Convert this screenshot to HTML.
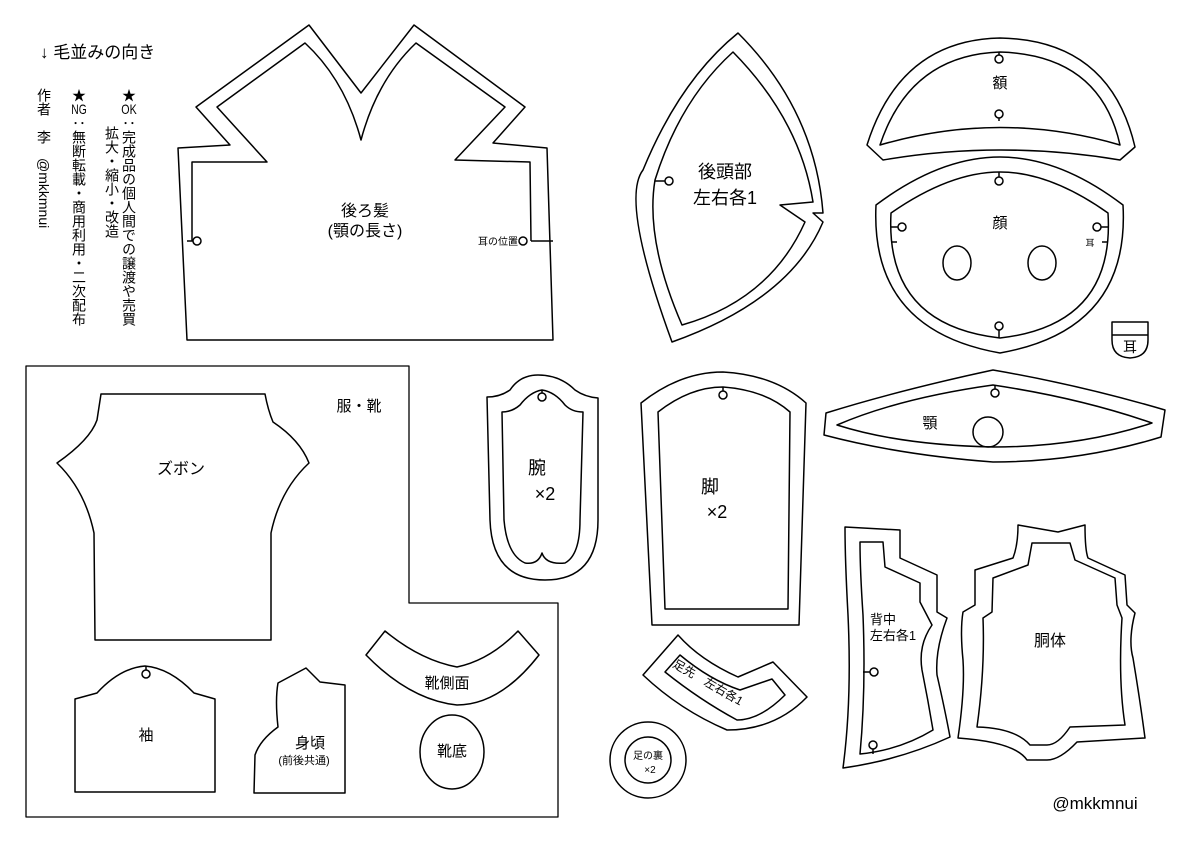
<!DOCTYPE html>
<html><head><meta charset="utf-8"><style>
html,body{margin:0;padding:0;background:#fff;}
body{width:1200px;height:849px;overflow:hidden;position:relative;font-family:"Liberation Sans","Noto Sans CJK JP",sans-serif;color:#000;}
svg{position:absolute;left:0;top:0;}
.v{position:absolute;writing-mode:vertical-rl;font-size:14px;line-height:16px;letter-spacing:0px;white-space:nowrap;}
</style></head><body>
<svg width="1200" height="849" viewBox="0 0 1200 849" fill="none" stroke="#000" stroke-width="1.5" stroke-linejoin="round">
<!-- back hair -->
<path d="M187,340 L178,148 L230,145 L196,107 L309,25 L361,93 L414,25 L525,107 L493,143 L547,148 L553,340 Z"/>
<path d="M192,241 L192,162 L267,162 L217,107 L305,43 Q345,80 361,140 Q377,80 416,43 L505,107 L455,160 L530,162 L531,241"/>
<line x1="187" y1="241" x2="193" y2="241"/><circle cx="197" cy="241" r="4"/>
<line x1="531" y1="241" x2="553" y2="241"/><circle cx="523" cy="241" r="4" fill="#fff"/>
<!-- back head -->
<path d="M738,33 Q815,110 823,213 L813,213 L823,222 Q790,300 672,342 Q620,200 643,170 Q680,80 738,33 Z"/>
<path d="M733,52 Q800,120 813,202 L780,205 L805,222 Q770,300 682,325 Q645,240 655,180 Q680,100 733,52 Z"/>
<line x1="655" y1="181" x2="665" y2="181"/><circle cx="669" cy="181" r="4"/>
<!-- forehead -->
<path d="M867,145 Q900,40 1000,38 Q1110,40 1135,147 L1120,160 Q1000,140 883,160 Z"/>
<path d="M880,145 Q910,55 1000,52 Q1100,55 1120,145 Q1000,110 880,145 Z"/>
<line x1="999" y1="52" x2="999" y2="55"/><circle cx="999" cy="59" r="4"/>
<line x1="999" y1="118" x2="999" y2="121"/><circle cx="999" cy="114" r="4"/>
<!-- face -->
<path d="M876,205 Q940,157 1000,157 Q1060,157 1123,205 Q1130,330 1000,353 Q870,330 876,205 Z"/>
<path d="M891,213 Q950,172 1000,172 Q1050,172 1108,213 Q1115,325 1000,338 Q885,325 891,213 Z"/>
<line x1="999" y1="172" x2="999" y2="177"/><circle cx="999" cy="181" r="4"/>
<line x1="999" y1="338" x2="999" y2="330"/><circle cx="999" cy="326" r="4"/>
<line x1="891" y1="227" x2="898" y2="227"/><circle cx="902" cy="227" r="4"/>
<line x1="1108" y1="227" x2="1101" y2="227"/><circle cx="1097" cy="227" r="4"/>
<line x1="891" y1="242" x2="897" y2="242"/><line x1="1108" y1="242" x2="1102" y2="242"/>
<ellipse cx="957" cy="263" rx="14" ry="17"/><ellipse cx="1042" cy="263" rx="14" ry="17"/>
<path d="M1112,322 L1148,322 L1148,340 Q1148,357 1130,358 Q1112,357 1112,340 Z"/>
<line x1="1112" y1="335" x2="1148" y2="335"/>
<!-- chin -->
<path d="M826,413 Q900,390 993,370 Q1080,385 1165,410 L1161,437 Q1080,462 993,462 Q900,455 824,435 Z"/>
<path d="M837,425 Q900,398 993,385 Q1080,398 1152,423 Q1080,447 993,447 Q900,445 837,425 Z"/>
<line x1="995" y1="385" x2="995" y2="389"/><circle cx="995" cy="393" r="4"/>
<circle cx="988" cy="432" r="15"/>
<!-- arm -->
<path d="M538,375 Q520,375 510,390 Q500,397 487,397 L490,520 Q492,580 545,580 Q598,580 598,520 L598,398 Q585,397 575,390 Q560,375 538,375 Z"/>
<path d="M542,390 Q530,392 520,405 Q512,412 502,412 L504,520 Q507,555 525,563 Q538,565 542,553 Q546,565 565,563 Q580,555 580,520 L583,412 Q572,412 565,405 Q555,392 542,390 Z"/>
<line x1="542" y1="390" x2="542" y2="393"/><circle cx="542" cy="397" r="4"/>
<!-- leg -->
<path d="M641,403 Q680,372 723,372 Q775,375 806,403 L799,625 L652,625 Z"/>
<path d="M658,412 Q690,387 723,387 Q765,390 790,412 L788,609 L665,609 Z"/>
<line x1="723" y1="387" x2="723" y2="391"/><circle cx="723" cy="395" r="4"/>
<!-- back -->
<path d="M845,527 L900,530 L900,558 L937,575 L937,612 L947,618 Q935,650 937,675 Q945,710 950,737 Q900,760 843,768 Q852,700 848,615 Q845,560 845,527 Z"/>
<path d="M860,542 L883,542 L885,567 L920,583 L920,602 L932,625 Q918,645 922,670 Q928,700 933,730 Q900,750 860,754 Q866,690 863,615 Q860,570 860,542 Z"/>
<line x1="863" y1="672" x2="870" y2="672"/><circle cx="874" cy="672" r="4"/>
<line x1="873" y1="754" x2="873" y2="749"/><circle cx="873" cy="745" r="4"/>
<!-- torso -->
<path d="M1018,525 L1058,532 L1085,525 Q1085,550 1088,558 L1125,575 L1127,605 L1135,613 Q1128,640 1133,658 Q1140,700 1145,738 L1077,742 Q1060,760 1047,760 Q1035,760 1027,760 Q1015,742 958,738 Q965,690 963,660 Q960,630 963,612 L975,605 L975,570 L1013,558 Q1018,545 1018,525 Z"/>
<path d="M1032,543 L1070,543 L1075,560 L1115,578 L1117,605 L1122,618 Q1118,680 1125,725 L1070,727 Q1058,745 1047,745 Q1042,745 1030,745 Q1015,728 977,727 Q985,670 983,618 L992,612 L993,578 L1028,565 Z"/>
<!-- clothes frame -->
<path d="M26,366 L409,366 L409,603 L558,603 L558,817 L26,817 Z" stroke-width="1.3"/>
<path d="M101,394 L265,394 Q268,410 273,422 Q300,440 309,463 Q280,490 271,533 L271,640 L95,640 L94,533 Q85,490 57,463 Q90,440 97,420 Z"/>
<path d="M75,792 L75,699 L97,693 Q120,668 145,666 Q170,668 194,693 L215,699 L215,792 Z"/>
<line x1="146" y1="666" x2="146" y2="670"/><circle cx="146" cy="674" r="4"/>
<path d="M254,793 L255,755 Q260,740 278,727 Q275,700 278,683 L306,668 L320,682 L345,685 L345,793 Z"/>
<path d="M366,655 L385,631 Q420,660 457,667 Q490,660 518,631 L539,655 Q500,705 457,705 Q410,700 366,655 Z"/>
<ellipse cx="452" cy="752" rx="32" ry="37"/>
<!-- toe -->
<path d="M643,675 L678,635 Q700,660 738,677 L773,662 L807,697 Q775,730 727,730 Q680,710 643,675 Z"/>
<path d="M665,672 L680,655 Q710,680 740,690 L772,679 L785,695 Q760,720 737,720 Q700,700 665,672 Z"/>
<circle cx="648" cy="760" r="38"/><circle cx="648" cy="760" r="23"/>
<g fill="#000" stroke="none" font-family="Liberation Sans, Noto Sans CJK JP, sans-serif" text-anchor="middle">
<text x="365" y="216" font-size="16">後ろ髪</text>
<text x="365" y="236" font-size="16">(顎の長さ)</text>
<text x="498" y="245" font-size="10">耳の位置</text>
<text x="725" y="178" font-size="18">後頭部</text>
<text x="725" y="204" font-size="18">左右各1</text>
<text x="1000" y="88" font-size="15">額</text>
<text x="1000" y="228" font-size="15">顔</text>
<text x="1090" y="246" font-size="9">耳</text>
<text x="1130" y="352" font-size="14">耳</text>
<text x="930" y="428" font-size="15">顎</text>
<text x="537" y="474" font-size="18">腕</text>
<text x="545" y="500" font-size="18">×2</text>
<text x="710" y="493" font-size="18">脚</text>
<text x="717" y="518" font-size="18">×2</text>
<text x="883" y="624" font-size="13">背中</text>
<text x="893" y="640" font-size="13">左右各1</text>
<text x="1050" y="646" font-size="16">胴体</text>
<text x="359" y="411" font-size="15">服・靴</text>
<text x="181" y="474" font-size="16">ズボン</text>
<text x="146" y="740" font-size="15">袖</text>
<text x="310" y="748" font-size="15">身頃</text>
<text x="304" y="764" font-size="11">(前後共通)</text>
<text x="447" y="688" font-size="15">靴側面</text>
<text x="452" y="756" font-size="15">靴底</text>
<text x="0" y="0" font-size="12" transform="translate(706,686) rotate(30)">足先　左右各1</text>
<text x="648" y="759" font-size="10">足の裏</text>
<text x="650" y="773" font-size="10">×2</text>
<text x="1095" y="809" font-size="17">@mkkmnui</text>
<text x="40" y="58" font-size="17" text-anchor="start">↓ 毛並みの向き</text>
</g>
</svg>
<div class="v" style="left:36px;top:88px;">作者　李　<span style="writing-mode:vertical-rl">@mkkmnui</span></div>
<div class="v" style="left:71px;top:88px;">★<span style="text-combine-upright:all">NG</span>：無断転載・商用利用・二次配布</div>
<div class="v" style="left:104px;top:126px;">拡大・縮小・改造</div>
<div class="v" style="left:121px;top:88px;">★<span style="text-combine-upright:all">OK</span>：完成品の個人間での譲渡や売買</div>
</body></html>
